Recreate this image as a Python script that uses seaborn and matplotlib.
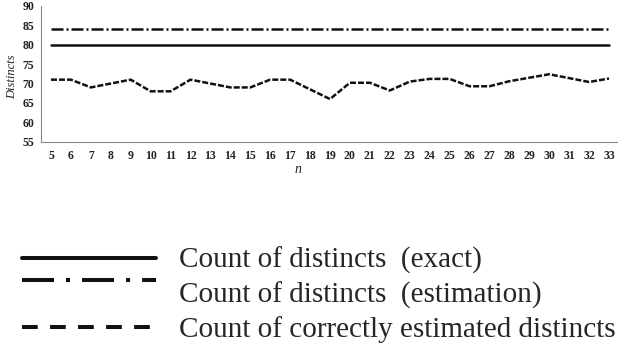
import numpy as np
import pandas as pd
import matplotlib
matplotlib.use("Agg")
import matplotlib.pyplot as plt
from matplotlib.lines import Line2D
from matplotlib.legend_handler import HandlerLine2D
import seaborn as sns

# ---- data ----
n_values = list(range(5, 34))
exact_counts = [80] * len(n_values)
estimated_counts = [84] * len(n_values)
correct_counts = [71, 71, 69, 70, 71, 68, 68, 71, 70, 69, 69, 71, 71, 68.5, 66,
                  70.2, 70.2, 68.2, 70.5, 71.2, 71.2, 69.3, 69.3, 70.6, 71.5,
                  72.4, 71.4, 70.4, 71.3]
y_ticks = [55, 60, 65, 70, 75, 80, 85, 90]
legend_labels = ["Count of distincts  (exact)",
                 "Count of distincts  (estimation)",
                 "Count of correctly estimated distincts"]

sns.set_style("white")
plt.rcParams["font.family"] = ["Liberation Serif", "DejaVu Serif"]

df = pd.DataFrame({"n": n_values, "exact": exact_counts,
                   "estimation": estimated_counts, "correct": correct_counts})

fig = plt.figure(figsize=(6.18, 3.47), dpi=100)
ax = fig.add_axes([41 / 618, 1 - 141.7 / 347, 578 / 618, 135.7 / 347])

sns.lineplot(data=df, x="n", y="exact", ax=ax, color="#111111", linewidth=1.8)
sns.lineplot(data=df, x="n", y="estimation", ax=ax, color="#111111", linewidth=1.8)
sns.lineplot(data=df, x="n", y="correct", ax=ax, color="#111111", linewidth=1.8)

l_exact, l_est, l_corr = ax.lines[0], ax.lines[1], ax.lines[2]
l_est.set_dashes([4.8, 1.2, 0.8, 1.2])
l_corr.set_dashes([2.4, 0.8])

ax.set_xlim(4.5, 33.5)
ax.set_ylim(55, 90)
ax.set_yticks(y_ticks)
ax.set_xticks(n_values)
ax.set_xticks(np.arange(4.5, 34, 1.0), minor=True)
ax.tick_params(axis="x", which="major", length=0, labelsize=8.5, pad=6, colors="#222222")
ax.tick_params(axis="x", which="minor", length=3, width=0.8, direction="out", color="#888888")
ax.tick_params(axis="y", which="major", length=3, width=0.8, direction="out",
               labelsize=8.5, pad=2, color="#888888", labelcolor="#222222")
for lbl in ax.get_xticklabels() + ax.get_yticklabels():
    lbl.set_fontweight("bold")

for side in ["top", "right"]:
    ax.spines[side].set_visible(False)
for side in ["left", "bottom"]:
    ax.spines[side].set_color("#888888")
    ax.spines[side].set_linewidth(0.8)

ax.set_ylabel("Distincts", fontsize=9, fontstyle="italic", color="#222222")
ax.yaxis.set_label_coords(-0.05, 0.48)
ax.yaxis.label.set_va("center")
ax.set_xlabel("n", fontsize=10, fontstyle="italic", color="#222222")
ax.xaxis.set_label_coords(0.445, -0.208)
ax.xaxis.label.set_va("center")


class ShiftedHandler(HandlerLine2D):
    def __init__(self, dy=0.0, **kw):
        super().__init__(**kw)
        self.dy = dy

    def create_artists(self, legend, orig_handle, xdescent, ydescent, width,
                       height, fontsize, trans):
        artists = super().create_artists(legend, orig_handle, xdescent, ydescent,
                                         width, height, fontsize, trans)
        for a in artists:
            a.set_ydata(np.asarray(a.get_ydata(), dtype=float) + self.dy)
        return artists


h_exact = Line2D([], [], color="#111111", linewidth=2.9)
h_est = Line2D([], [], color="#111111", linewidth=2.9, dashes=[7.95, 2.98, 1.0, 2.98])
h_corr = Line2D([], [], color="#111111", linewidth=2.9, dashes=[3.9, 3.06])

fig.legend([h_exact, h_est, h_corr], legend_labels,
           loc="upper left", bbox_to_anchor=(22 / 618, 1 - 247 / 347),
           frameon=False, fontsize=21, handlelength=4.6, handletextpad=0.79,
           labelspacing=0.25, borderpad=0, borderaxespad=0,
           handler_map={h_est: ShiftedHandler(dy=8.6)})

fig.savefig("out.png", dpi=100)
